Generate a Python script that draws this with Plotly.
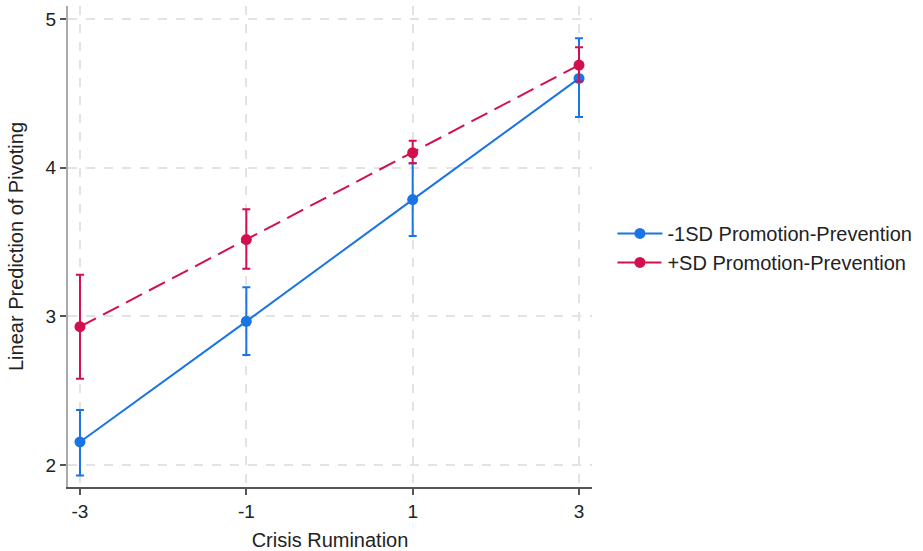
import plotly.graph_objects as go

x_vals = [-3, -1, 1, 3]
low_mean = [2.155, 2.966, 3.785, 4.60]
low_upper = [2.37, 3.195, 4.03, 4.87]
low_lower = [1.93, 2.74, 3.54, 4.34]
high_mean = [2.93, 3.516, 4.10, 4.69]
high_upper = [3.28, 3.72, 4.18, 4.81]
high_lower = [2.58, 3.32, 4.03, 4.58]
series_names = ["-1SD Promotion-Prevention", "+SD Promotion-Prevention"]
x_ticks = [-3, -1, 1, 3]
y_ticks = [2, 3, 4, 5]

blue = "#1a74e6"
red = "#d3104e"

def err(mean, up, lo):
    return dict(type="data", symmetric=False,
                array=[u - m for u, m in zip(up, mean)],
                arrayminus=[m - l for m, l in zip(mean, lo)])

fig = go.Figure()
fig.add_trace(go.Scatter(
    x=x_vals, y=low_mean, mode="lines+markers", name=series_names[0],
    line=dict(color=blue, width=2), marker=dict(color=blue, size=11),
    error_y={**err(low_mean, low_upper, low_lower), "color": blue, "thickness": 2, "width": 4},
))
fig.add_trace(go.Scatter(
    x=x_vals, y=high_mean, mode="lines+markers", name=series_names[1],
    line=dict(color=red, width=2, dash="18px,8px"), marker=dict(color=red, size=11),
    error_y={**err(high_mean, high_upper, high_lower), "color": red, "thickness": 2, "width": 4},
))

fig.update_layout(
    width=923, height=551,
    margin=dict(l=68, r=329, t=6, b=64),
    paper_bgcolor="white", plot_bgcolor="white",
    font=dict(family="Liberation Sans, Arial, sans-serif", color="#222", size=20),
    legend=dict(x=1.039, xanchor="left", y=0.497, yanchor="middle",
                font=dict(size=20), tracegroupgap=0, itemwidth=45),
    showlegend=True,
)
fig.update_xaxes(
    range=[-3.144, 3.156], tickvals=x_ticks, ticktext=[str(t) for t in x_ticks],
    showgrid=True, gridcolor="#e3e3e3", griddash="dash", gridwidth=1.5,
    showline=True, linecolor="#555", linewidth=2,
    ticks="outside", ticklen=6, tickcolor="#555", tickwidth=1.5,
    zeroline=False, automargin=False,
    title=dict(text="Crisis Rumination", font=dict(size=20), standoff=12),
    tickfont=dict(size=19),
)
fig.update_yaxes(
    range=[1.852, 5.087], tickvals=y_ticks, ticktext=[str(t) for t in y_ticks],
    showgrid=True, gridcolor="#e3e3e3", griddash="dash", gridwidth=1.5,
    showline=True, linecolor="#aaa", linewidth=2,
    ticks="outside", ticklen=6, tickcolor="#555", tickwidth=1.5,
    zeroline=False, automargin=False,
    title=dict(text="Linear Prediction of Pivoting", font=dict(size=20), standoff=17),
    tickfont=dict(size=19),
)

fig.write_html("out.html", config={"displayModeBar": False},
               post_script="document.body.style.margin='0';document.body.style.overflow='hidden';")
